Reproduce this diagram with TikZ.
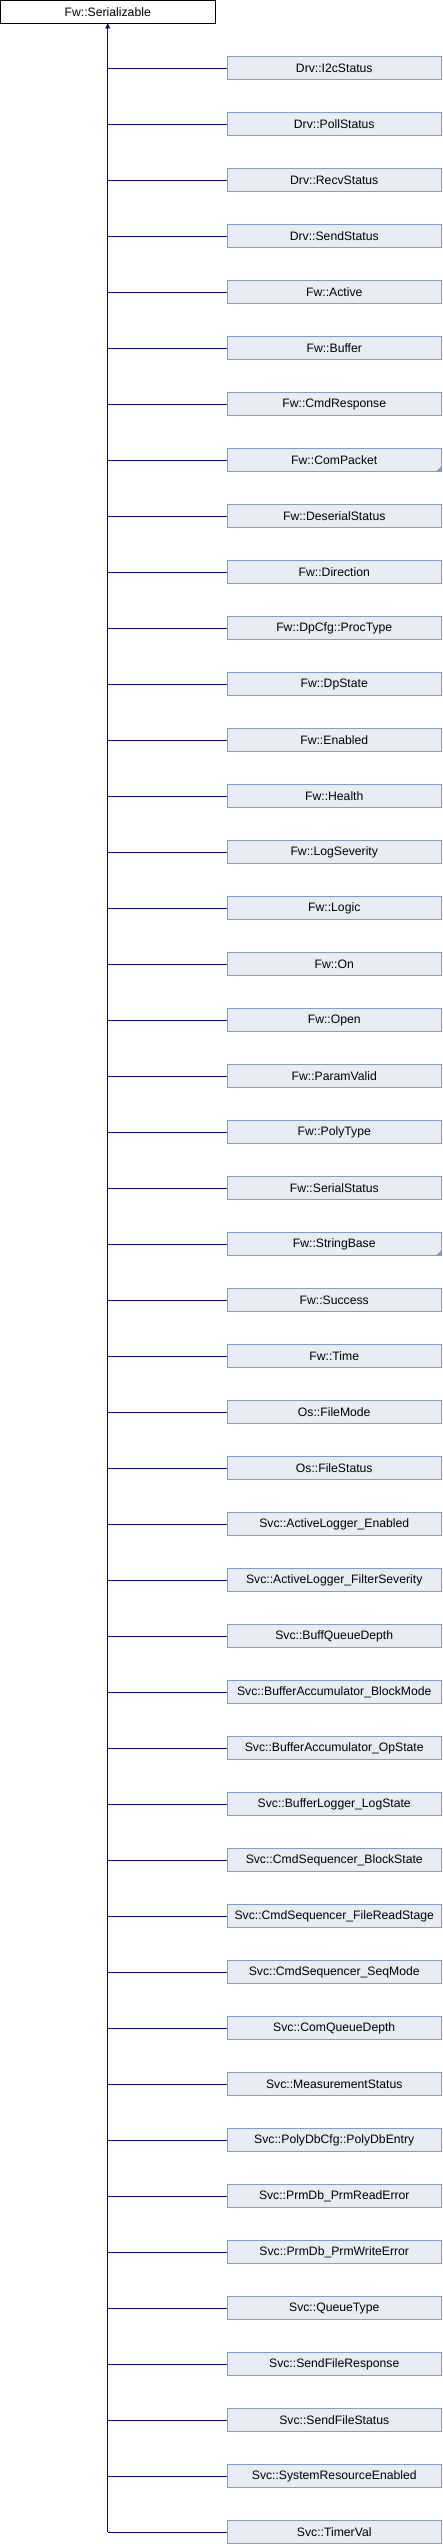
\documentclass[tikz,border=0pt]{standalone}
\usepackage{fontspec}
\setmainfont{Liberation Sans}
\usetikzlibrary{arrows.meta}
\definecolor{boxfill}{RGB}{232,236,244}
\definecolor{boxdraw}{RGB}{132,155,206}
\definecolor{edgecol}{RGB}{8,8,140}
\definecolor{trifill}{RGB}{132,155,206}
\tikzset{
  cls/.style={draw=boxdraw, fill=boxfill, line width=0.9pt, minimum width=214.5pt, minimum height=22.5pt, inner sep=0pt, font=\fontsize{12.2}{14}\selectfont},
  basecls/.style={draw=black, fill=white, line width=0.9pt, minimum width=214.5pt, minimum height=22.5pt, inner sep=0pt, font=\fontsize{12.2}{14}\selectfont},
  edge/.style={draw=edgecol, line width=0.9pt},
  inh/.style={edge, {Triangle[width=5pt,length=5pt]}-}
}
\begin{document}
\begin{tikzpicture}[x=1pt,y=-1pt]
\useasboundingbox (0,0) rectangle (442,2544);
\node[basecls] (base) at (107.75,11.75) {Fw::Serializable};
\foreach \name [count=\i from 0] in {
Drv::I2cStatus,Drv::PollStatus,Drv::RecvStatus,Drv::SendStatus,
Fw::Active,Fw::Buffer,Fw::CmdResponse,Fw::ComPacket,Fw::DeserialStatus,Fw::Direction,
Fw::DpCfg::ProcType,Fw::DpState,Fw::Enabled,Fw::Health,Fw::LogSeverity,Fw::Logic,Fw::On,Fw::Open,
Fw::ParamValid,Fw::PolyType,Fw::SerialStatus,Fw::StringBase,Fw::Success,Fw::Time,
Os::FileMode,Os::FileStatus,
Svc::ActiveLogger\_Enabled,Svc::ActiveLogger\_FilterSeverity,Svc::BuffQueueDepth,
Svc::BufferAccumulator\_BlockMode,Svc::BufferAccumulator\_OpState,Svc::BufferLogger\_LogState,
Svc::CmdSequencer\_BlockState,Svc::CmdSequencer\_FileReadStage,Svc::CmdSequencer\_SeqMode,
Svc::ComQueueDepth,Svc::MeasurementStatus,Svc::PolyDbCfg::PolyDbEntry,
Svc::PrmDb\_PrmReadError,Svc::PrmDb\_PrmWriteError,Svc::QueueType,Svc::SendFileResponse,
Svc::SendFileStatus,Svc::SystemResourceEnabled,Svc::TimerVal}
{
  \node[cls] (c\i) at (334.25, 56.75+56*\i+11.25) {\name};
  \draw[edge] (base.south |- c\i.west) -- (c\i.west);
}
\draw[inh] (base.south) -- (base.south |- c44.west);
\foreach \k in {7,21}{
  \fill[trifill] ([xshift=-6pt]c\k.south east) -- (c\k.south east) -- ([yshift=6pt]c\k.south east) -- cycle;
}
\end{tikzpicture}
\end{document}
